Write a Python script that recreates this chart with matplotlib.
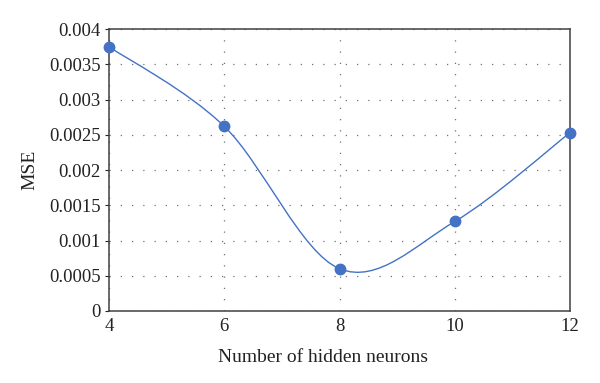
import matplotlib
matplotlib.use("Agg")
import matplotlib.pyplot as plt
from matplotlib.path import Path
from matplotlib.patches import PathPatch
import numpy as np

neurons = [4, 6, 8, 10, 12]
mse = [0.00375, 0.00262, 0.0006, 0.00127, 0.00253]
yticks = [0, 0.0005, 0.001, 0.0015, 0.002, 0.0025, 0.003, 0.0035, 0.004]
ytick_labels = ["0", "0.0005", "0.001", "0.0015", "0.002", "0.0025", "0.003", "0.0035", "0.004"]
xticks = [4, 6, 8, 10, 12]

plt.rcParams['font.family'] = ['Liberation Serif', 'DejaVu Serif']
color = '#4472C4'

fig = plt.figure(figsize=(6, 3.83), dpi=100)
ax = fig.add_axes([0.1817, 0.188, 0.7683, 0.736])

# Smoothed line (Catmull-Rom style Bezier, like spreadsheet smoothing)
x = np.array(neurons, float)
y = np.array(mse, float)
n = len(x)
verts = [(x[0], y[0])]
codes = [Path.MOVETO]
for i in range(n - 1):
    p0 = np.array([x[max(i - 1, 0)], y[max(i - 1, 0)]])
    p1 = np.array([x[i], y[i]])
    p2 = np.array([x[i + 1], y[i + 1]])
    p3 = np.array([x[min(i + 2, n - 1)], y[min(i + 2, n - 1)]])
    c1 = p1 + (p2 - p0) / 6
    c2 = p2 - (p3 - p1) / 6
    verts += [tuple(c1), tuple(c2), tuple(p2)]
    codes += [Path.CURVE4] * 3
ax.add_patch(PathPatch(Path(verts, codes), facecolor='none', edgecolor=color, lw=1.0, zorder=3))
ax.plot(neurons, mse, 'o', color=color, markersize=7.5, zorder=4, clip_on=False)

ax.set_xlim(4, 12)
ax.set_ylim(0, 0.004)
ax.set_xticks(xticks)
ax.set_xticklabels([str(v) for v in xticks])
ax.set_yticks(yticks)
ax.set_yticklabels(ytick_labels)
ax.grid(True, linestyle=(0, (1, 8)), color='#707070', linewidth=0.9)
ax.set_axisbelow(True)
for s in ax.spines.values():
    s.set_color('#404040')
    s.set_linewidth(1.1)
ax.tick_params(axis='x', length=0, labelsize=13.5, colors='#222222', pad=5)
ax.tick_params(axis='y', length=3, labelsize=13.5, colors='#222222', pad=3)
ax.set_xlabel("Number of hidden neurons", fontsize=14, color='#222222', labelpad=8)
ax.xaxis.set_label_coords(0.464, -0.135)
ax.set_ylabel("MSE", fontsize=14, color='#222222', labelpad=8)

fig.savefig("out.png", dpi=100)
